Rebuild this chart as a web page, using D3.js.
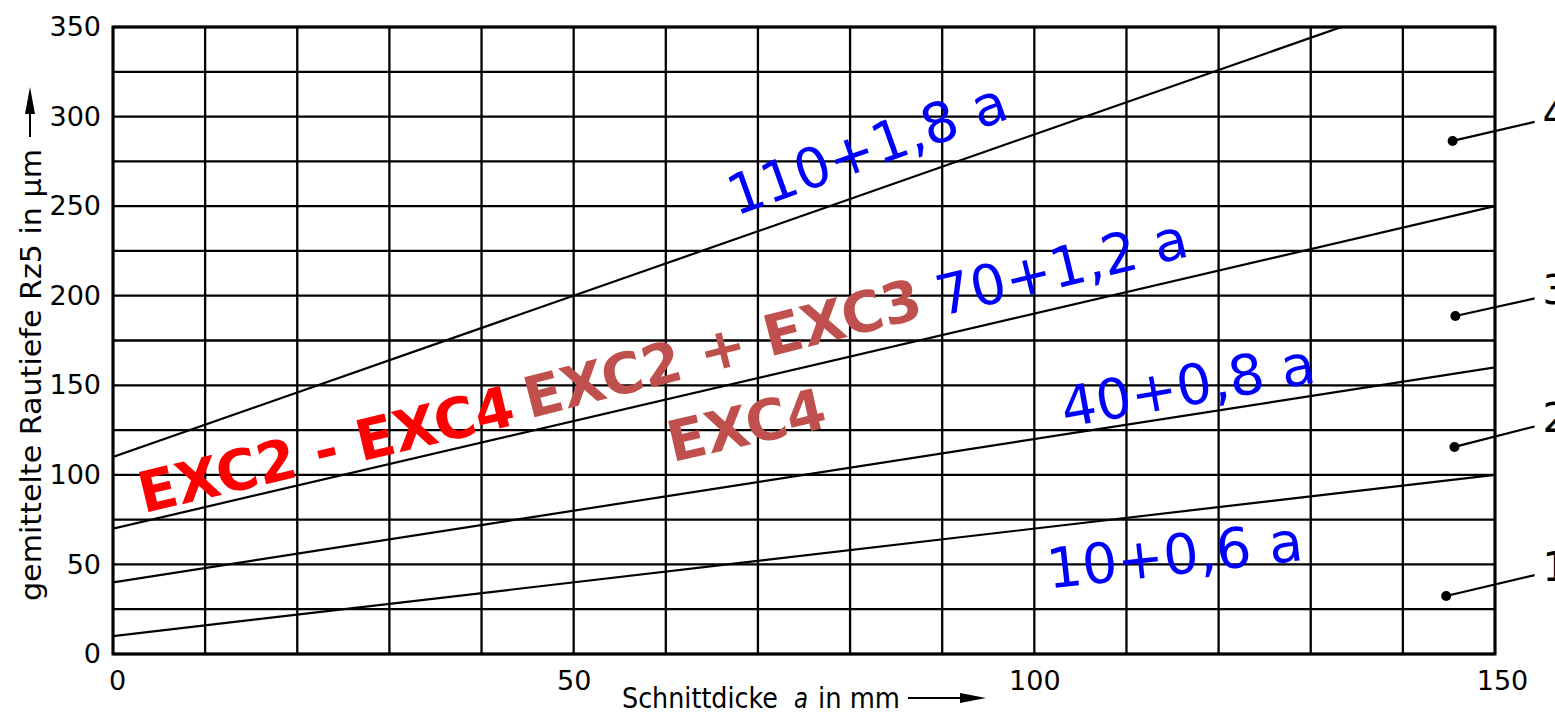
<!DOCTYPE html>
<html>
<head>
<meta charset="utf-8">
<script src="https://cdn.jsdelivr.net/npm/d3@7"></script>
<style>
  html, body { margin: 0; padding: 0; background: #fff; overflow: hidden; }
  svg { display: block; }
</style>
</head>
<body>
<svg id="chart" width="1555" height="714"></svg>
<script>
// ---------- data ----------
const xTicks = [0, 50, 100, 150];
const yTicks = [0, 50, 100, 150, 200, 250, 300, 350];
const xGrid = d3.range(0, 151, 10);
const yGrid = d3.range(0, 351, 25);

// lines y = intercept + slope * a
const lineNames = ["110+1,8 a", "70+1,2 a", "40+0,8 a", "10+0,6 a"];
const intercepts = [110, 70, 40, 10];
const slopes = [1.8, 1.2, 0.8, 0.6];

// numbered markers (1..4)
const markerLabels = ["1", "2", "3", "4"];
const markerX = [144.7, 145.6, 145.7, 145.4];
const markerY = [32.4, 115.6, 188.7, 286.4];
const markerEndX = [154.3, 154.3, 154.3, 154.3];
const markerEndY = [44, 127, 198.5, 297];

// blue formula labels
const formulaX = [67.6, 89.9, 103.3, 101.6];
const formulaY = [244.5, 188.5, 126.5, 36.5];
const formulaAngle = [-19.6, -13.6, -10.2, -6.4];

// material labels
const matText = ["EXC2 - EXC4", "EXC2 + EXC3", "EXC4"];
const matX = [3.3, 45.2, 60.7];
const matY = [78.5, 131.5, 107.0];
const matAngle = [-13.4, -14.4, -12.8];
const matColor = ["#ff0000", "#c0504d", "#c0504d"];

// ---------- chart ----------
const svg = d3.select("#chart");
const L = 113, R = 1495, T = 27, B = 654;
const x = d3.scaleLinear().domain([0, 150]).range([L, R]);
const y = d3.scaleLinear().domain([0, 350]).range([B, T]);
const FONT = "'DejaVu Sans', sans-serif";

const g = svg.append("g");

// grid
g.selectAll("line.vg").data(xGrid).enter().append("line")
  .attr("x1", d => x(d)).attr("x2", d => x(d))
  .attr("y1", y(0)).attr("y2", y(350))
  .attr("stroke", "#000").attr("stroke-width", 2.3);
g.selectAll("line.hg").data(yGrid).enter().append("line")
  .attr("x1", x(0)).attr("x2", x(150))
  .attr("y1", d => y(d)).attr("y2", d => y(d))
  .attr("stroke", "#000").attr("stroke-width", 2.3);
g.append("rect").attr("x", x(0)).attr("y", y(350))
  .attr("width", x(150) - x(0)).attr("height", y(0) - y(350))
  .attr("fill", "none").attr("stroke", "#000").attr("stroke-width", 3);

// lines
svg.append("defs").append("clipPath").attr("id", "plot")
  .append("rect").attr("x", x(0)).attr("y", y(350))
  .attr("width", x(150) - x(0)).attr("height", y(0) - y(350));
const lg = g.append("g").attr("clip-path", "url(#plot)");
intercepts.forEach((b, i) => {
  const pts = [0, 150].map(a => [a, b + slopes[i] * a]);
  lg.append("path")
    .attr("d", d3.line().x(d => x(d[0])).y(d => y(d[1]))(pts))
    .attr("fill", "none").attr("stroke", "#000").attr("stroke-width", 2.2);
});

// axes tick labels
const xAxis = d3.axisBottom(x).tickValues(xTicks).tickSize(0).tickPadding(17);
const xa = svg.append("g").attr("transform", `translate(0,${B})`).call(xAxis);
xa.select(".domain").remove();
xa.selectAll("text").attr("font-family", FONT).attr("font-size", 27).attr("fill", "#000")
  .attr("dx", d => d === 150 ? 7 : (d === 0 ? 4 : 0));

const yAxis = d3.axisLeft(y).tickValues(yTicks).tickSize(0).tickPadding(12);
const ya = svg.append("g").attr("transform", `translate(${L},0)`).call(yAxis);
ya.select(".domain").remove();
ya.selectAll("text").attr("font-family", FONT).attr("font-size", 27).attr("fill", "#000");

// axis titles
const xTitleParts = [
  { t: "Schnittdicke", x0: 622, len: 156, italic: false },
  { t: "a", x0: 794, len: 14, italic: true },
  { t: "in mm", x0: 818, len: 82, italic: false }
];
xTitleParts.forEach(p => {
  svg.append("text").attr("x", p.x0).attr("y", 708)
    .attr("font-family", FONT).attr("font-size", 28).attr("fill", "#000")
    .attr("font-style", p.italic ? "italic" : "normal")
    .attr("textLength", p.len).attr("lengthAdjust", "spacingAndGlyphs")
    .text(p.t);
});
svg.append("line").attr("x1", 908).attr("x2", 965).attr("y1", 698).attr("y2", 698)
  .attr("stroke", "#000").attr("stroke-width", 2);
svg.append("path").attr("d", "M960,693 L986,698 L960,703 Z").attr("fill", "#000");

svg.append("text")
  .attr("transform", "translate(41,601) rotate(-90)")
  .attr("font-family", FONT).attr("font-size", 28).attr("fill", "#000")
  .attr("textLength", 452).attr("lengthAdjust", "spacingAndGlyphs")
  .text("gemittelte Rautiefe Rz5 in µm");
svg.append("line").attr("x1", 30).attr("x2", 30).attr("y1", 137).attr("y2", 110)
  .attr("stroke", "#000").attr("stroke-width", 2);
svg.append("path").attr("d", "M25,114 L30,87 L35,114 Z").attr("fill", "#000");

// markers
markerLabels.forEach((lab, i) => {
  svg.append("line")
    .attr("x1", x(markerX[i])).attr("y1", y(markerY[i]))
    .attr("x2", x(markerEndX[i])).attr("y2", y(markerEndY[i]))
    .attr("stroke", "#000").attr("stroke-width", 2.2);
  svg.append("circle").attr("cx", x(markerX[i])).attr("cy", y(markerY[i]))
    .attr("r", 5).attr("fill", "#000");
  svg.append("text").attr("x", x(markerEndX[i]) + 8).attr("y", y(markerEndY[i]) + 6)
    .attr("font-family", FONT).attr("font-size", 40).attr("fill", "#000").text(lab);
});

// formula labels
lineNames.forEach((t, i) => {
  svg.append("text")
    .attr("transform", `translate(${x(formulaX[i])},${y(formulaY[i])}) rotate(${formulaAngle[i]})`)
    .attr("font-family", FONT).attr("font-size", 55.5).attr("fill", "#0000ff")
    .text(t);
});

// material labels
matText.forEach((t, i) => {
  svg.append("text")
    .attr("transform", `translate(${x(matX[i])},${y(matY[i])}) rotate(${matAngle[i]})`)
    .attr("font-family", FONT).attr("font-weight", "bold").attr("font-size", 56.5)
    .attr("fill", matColor[i])
    .text(t);
});
</script>
</body>
</html>
